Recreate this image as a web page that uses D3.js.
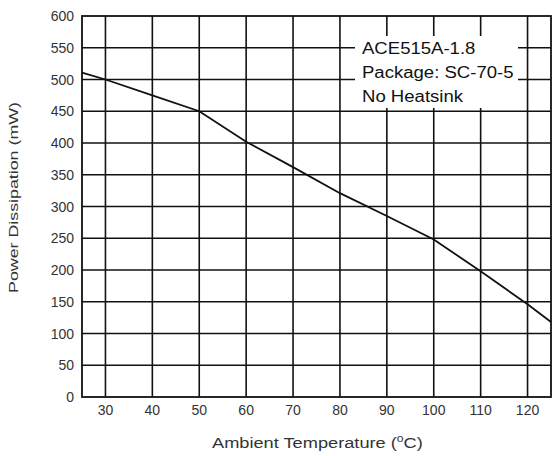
<!DOCTYPE html>
<html>
<head>
<meta charset="utf-8">
<script src="https://cdn.jsdelivr.net/npm/d3@7"></script>
<style>
  html, body { margin: 0; padding: 0; background: #fff; }
  svg { display: block; font-family: Arial, "Liberation Sans", sans-serif; }
</style>
</head>
<body>
<div id="chart"></div>
<script>
// data
const temps = [25, 30, 40, 50, 60, 70, 80, 90, 100, 110, 120, 125];
const power = [511, 500, 475, 450, 402, 362, 321, 285, 248, 198, 146, 118];
const xTicks = [30, 40, 50, 60, 70, 80, 90, 100, 110, 120];
const yTicks = [0, 50, 100, 150, 200, 250, 300, 350, 400, 450, 500, 550, 600];
const noteLines = ["ACE515A-1.8", "Package: SC-70-5", "No Heatsink"];

const W = 552, H = 456;
const plot = { left: 82, right: 551, top: 16, bottom: 397 };

const svg = d3.select("#chart").append("svg")
  .attr("width", W)
  .attr("height", H);

const x = d3.scaleLinear().domain([25, 125]).range([plot.left, plot.right]);
const y = d3.scaleLinear().domain([0, 600]).range([plot.bottom, plot.top]);

// the scanned text is a bit wider than the font, stretch it to the measured width
function stretch(g, text, width) {
  const w = text.node().getComputedTextLength();
  text.attr("transform", `scale(${width / w},1)`);
}

// grid
const grid = svg.append("g").attr("stroke", "#111").attr("stroke-width", 1.6);
grid.selectAll(".vg").data(xTicks).join("line")
  .attr("x1", d => x(d)).attr("x2", d => x(d))
  .attr("y1", plot.top).attr("y2", plot.bottom);
grid.selectAll(".hg").data(yTicks.slice(1, -1)).join("line")
  .attr("x1", plot.left).attr("x2", plot.right)
  .attr("y1", d => y(d)).attr("y2", d => y(d));

// frame
svg.append("rect")
  .attr("x", plot.left).attr("y", plot.top)
  .attr("width", plot.right - plot.left).attr("height", plot.bottom - plot.top)
  .attr("fill", "none").attr("stroke", "#111").attr("stroke-width", 1.8);

// curve
const line = d3.line().x((d, i) => x(temps[i])).y(d => y(d));
svg.append("path")
  .datum(power)
  .attr("d", line)
  .attr("fill", "none")
  .attr("stroke", "#111")
  .attr("stroke-width", 1.8);

// annotation box
svg.append("rect")
  .attr("x", 355).attr("y", 36)
  .attr("width", 163).attr("height", 72)
  .attr("fill", "#fff");
noteLines.forEach((t, i) => {
  const g = svg.append("g").attr("transform", `translate(362,${54 + i * 24})`);
  const tx = g.append("text")
    .attr("font-size", 16)
    .attr("fill", "#111")
    .text(t);
  // same stretch for all three lines, taken from the widest one
  tx.attr("transform", "scale(1.16,1)");
});

// tick labels
svg.append("g").selectAll("text").data(yTicks).join("text")
  .attr("x", 74)
  .attr("y", d => y(d) + 5)
  .attr("text-anchor", "end")
  .attr("font-size", 14)
  .attr("fill", "#333")
  .text(d => d);

svg.append("g").selectAll("text").data(xTicks).join("text")
  .attr("x", d => x(d))
  .attr("y", 415)
  .attr("text-anchor", "middle")
  .attr("font-size", 14)
  .attr("fill", "#333")
  .text(d => d);

// axis titles
const xg = svg.append("g").attr("transform", "translate(212,448)");
const xt = xg.append("text")
  .attr("font-size", 15)
  .attr("fill", "#333");
xt.append("tspan").text("Ambient Temperature (");
xt.append("tspan").attr("dy", -6).attr("font-size", 10).text("o");
xt.append("tspan").attr("dy", 6).text("C)");
stretch(xg, xt, 211);

const yg = svg.append("g").attr("transform", "translate(18,197.5) rotate(-90)");
const yt = yg.append("text")
  .attr("text-anchor", "middle")
  .attr("font-size", 13.5)
  .attr("fill", "#333")
  .text("Power Dissipation (mW)");
stretch(yg, yt, 191);
</script>
</body>
</html>
